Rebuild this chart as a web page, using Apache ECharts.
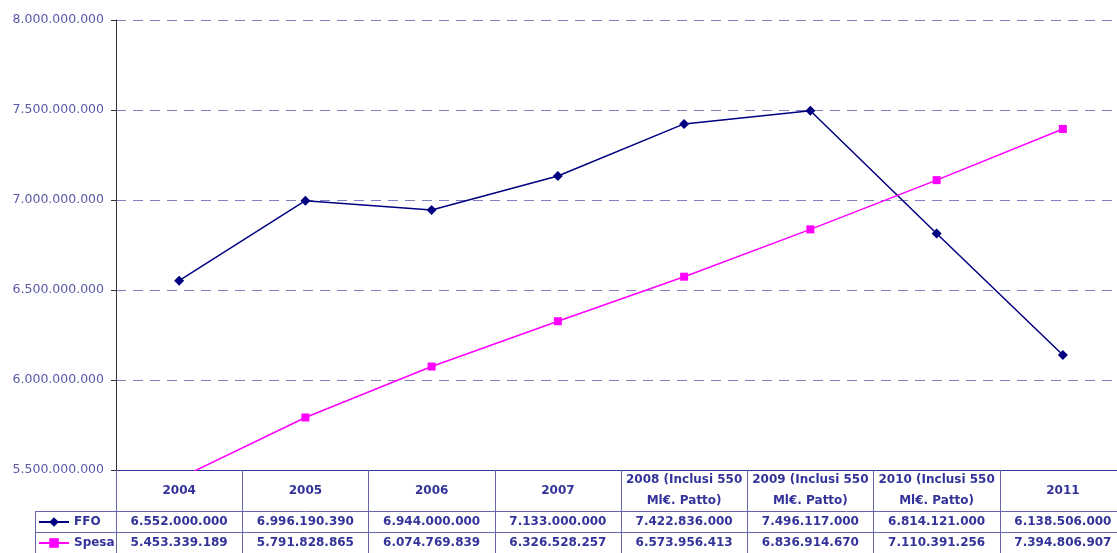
<!DOCTYPE html>
<html>
<head>
<meta charset="utf-8">
<script src="https://cdn.jsdelivr.net/npm/echarts@6/dist/echarts.min.js"></script>
<style>
  html, body { margin: 0; padding: 0; background: #fff; }
  #chart { width: 1117px; height: 553px; }
</style>
</head>
<body>
<div id="chart"></div>
<script>
var categories = ['2004', '2005', '2006', '2007',
    '2008 (Inclusi 550\nMl€. Patto)', '2009 (Inclusi 550\nMl€. Patto)', '2010 (Inclusi 550\nMl€. Patto)', '2011'];
var ffo = [6552000000, 6996190390, 6944000000, 7133000000, 7422836000, 7496117000, 6814121000, 6138506000];
var spesa = [5453339189, 5791828865, 6074769839, 6326528257, 6573956413, 6836914670, 7110391256, 7394806907];
var yTicks = { min: 5500000000, max: 8000000000, step: 500000000 };

var tableBlue = '#6666aa';
var textBlue = '#333399';

function itNum(v) {
    return String(Math.round(v)).replace(/\B(?=(\d{3})+(?!\d))/g, '.');
}

var myChart = echarts.init(document.getElementById('chart'));

var legendText = { color: textBlue, fontWeight: 'bold', fontSize: 12, fontFamily: 'DejaVu Sans' };

var option = {
    animation: false,
    textStyle: { fontFamily: 'DejaVu Sans' },
    grid: { left: 116, top: 20, width: 1010, height: 450, outerBoundsMode: 'none', containLabel: false },
    legend: [
        {
            left: 38, top: 516, itemWidth: 30, itemHeight: 12, padding: 0,
            textStyle: legendText, data: ['FFO']
        },
        {
            left: 38, top: 537, itemWidth: 30, itemHeight: 12, padding: 0,
            textStyle: legendText, data: ['Spesa']
        }
    ],
    xAxis: {
        type: 'category',
        data: categories,
        axisLine: { lineStyle: { color: '#333399', width: 1 } },
        axisTick: { show: true, interval: 0, length: 83, lineStyle: { color: tableBlue } },
        axisLabel: {
            interval: 0,
            margin: 0,
            formatter: function (value, idx) {
                var head = value.indexOf('\n') >= 0 ? '{h2|' + value + '}' : '{h1|' + value + '}';
                return head + '\n{v|' + itNum(ffo[idx]) + '}\n{v|' + itNum(spesa[idx]) + '}';
            },
            rich: {
                h1: { color: textBlue, fontWeight: 'bold', fontSize: 12, lineHeight: 41, fontFamily: 'DejaVu Sans' },
                h2: { color: textBlue, fontWeight: 'bold', fontSize: 12, lineHeight: 20.5, fontFamily: 'DejaVu Sans' },
                v: { color: textBlue, fontWeight: 'bold', fontSize: 12, lineHeight: 21, fontFamily: 'DejaVu Sans' }
            }
        }
    },
    yAxis: {
        type: 'value',
        min: yTicks.min,
        max: yTicks.max,
        interval: yTicks.step,
        axisLine: { show: true, lineStyle: { color: '#333333' } },
        axisTick: { show: true, length: 5, lineStyle: { color: '#333333' } },
        axisLabel: {
            color: '#5a5aa8',
            fontSize: 12.5,
            margin: 12,
            fontFamily: 'DejaVu Sans',
            formatter: function (v) { return itNum(v); }
        },
        splitLine: { lineStyle: { color: '#8080c0', type: [10, 7], width: 1 } }
    },
    graphic: [
        { type: 'line', shape: { x1: 35, y1: 511.5, x2: 1117, y2: 511.5 }, style: { stroke: tableBlue, lineWidth: 1 } },
        { type: 'line', shape: { x1: 35, y1: 532.5, x2: 1117, y2: 532.5 }, style: { stroke: tableBlue, lineWidth: 1 } },
        { type: 'line', shape: { x1: 35.5, y1: 511, x2: 35.5, y2: 553 }, style: { stroke: tableBlue, lineWidth: 1 } }
    ],
    series: [
        {
            name: 'FFO',
            type: 'line',
            data: ffo,
            symbol: 'diamond',
            symbolSize: 10,
            itemStyle: { color: '#000080' },
            lineStyle: { color: '#000080', width: 1.5 }
        },
        {
            name: 'Spesa',
            type: 'line',
            data: spesa,
            symbol: 'rect',
            symbolSize: 8,
            clip: true,
            itemStyle: { color: '#ff00ff' },
            lineStyle: { color: '#ff00ff', width: 1.5 }
        }
    ]
};

option && myChart.setOption(option);
</script>
</body>
</html>
